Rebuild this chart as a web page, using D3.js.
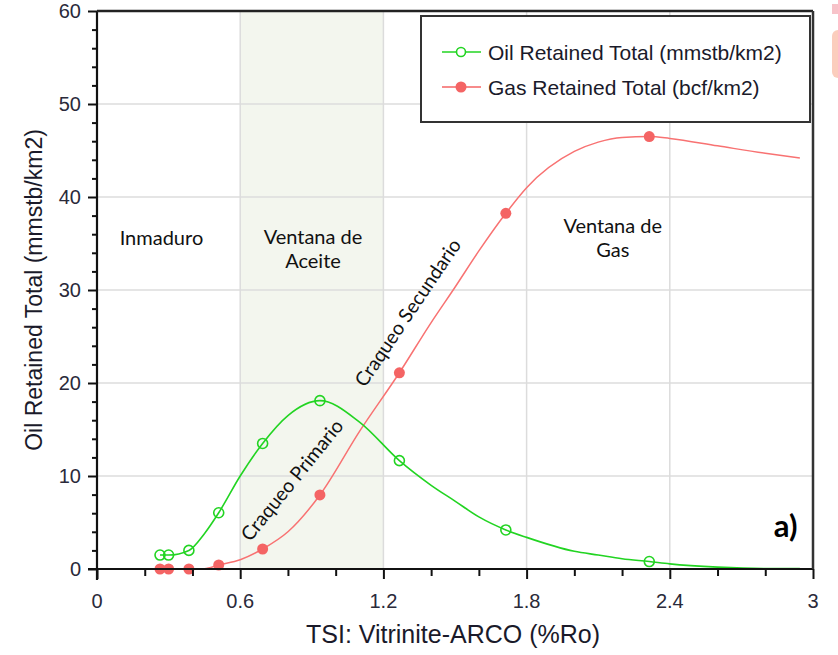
<!DOCTYPE html>
<html>
<head>
<meta charset="utf-8">
<script src="https://cdn.jsdelivr.net/npm/d3@7"></script>
<style>
  body { margin: 0; background: #fff; }
  svg { display: block; }
</style>
</head>
<body>
<div id="chart"></div>
<script>
// curve samples
const ro  = [0.264, 0.30, 0.385, 0.45, 0.51, 0.6, 0.694, 0.8, 0.934, 1.1, 1.267, 1.4, 1.5, 1.6, 1.713, 1.8, 2.0, 2.1, 2.2, 2.314, 2.4, 2.6, 2.8, 2.945];
const oil = [1.5, 1.5, 2.0, 3.8, 6.05, 10.0, 13.5, 16.5, 18.1, 15.8, 11.65, 9.0, 7.3, 5.6, 4.2, 3.4, 1.9, 1.5, 1.1, 0.8, 0.55, 0.2, 0.05, 0.05];
const gas = [0, 0, 0, 0.02, 0.43, 1.0, 2.15, 4.0, 7.96, 14.8, 21.1, 26.5, 30.3, 34.2, 38.25, 41.0, 44.9, 45.9, 46.4, 46.5, 46.3, 45.5, 44.7, 44.2];

// marker positions
const markRo  = [0.264, 0.30, 0.385, 0.51, 0.694, 0.934, 1.267, 1.713, 2.314];
const markOil = [1.5, 1.5, 2.0, 6.05, 13.5, 18.1, 11.65, 4.2, 0.8];
const markGas = [0, 0, 0, 0.43, 2.15, 7.96, 21.1, 38.25, 46.5];

const xTicks = [0, 0.6, 1.2, 1.8, 2.4, 3];
const yTicks = [0, 10, 20, 30, 40, 50, 60];
const oilWindow = [0.6, 1.2];

const seriesNames = ["Oil Retained Total (mmstb/km2)", "Gas Retained Total (bcf/km2)"];
const zoneLabels = [
  { x: 0.27, y: 34.8, lines: ["Inmaduro"] },
  { x: 0.905, y: 34.9, lines: ["Ventana de", "Aceite"] },
  { x: 2.161, y: 36.1, lines: ["Ventana de", "Gas"] }
];

const oilColor = "#22d422";
const gasColor = "#f46464";

const W = 838, H = 655;
const margin = { top: 11, right: 25, bottom: 86, left: 97 };
const width = W - margin.left - margin.right;
const height = H - margin.top - margin.bottom;

const svg = d3.select("#chart").append("svg")
  .attr("width", W)
  .attr("height", H);

// stray bit of the page edge in the screenshot
svg.append("rect").attr("x", 832).attr("y", 4).attr("width", 12).attr("height", 10).attr("fill", "#f7c3c9");
svg.append("rect").attr("x", 832).attr("y", 30).attr("width", 16).attr("height", 48).attr("rx", 6).attr("fill", "#fbcdbd");

const g = svg.append("g")
  .attr("transform", `translate(${margin.left},${margin.top})`);

const x = d3.scaleLinear().domain([0, 3]).range([0, width]);
const y = d3.scaleLinear().domain([0, 60]).range([height, 0]);

// oil window band
g.append("rect")
  .attr("x", x(oilWindow[0]))
  .attr("y", 0)
  .attr("width", x(oilWindow[1]) - x(oilWindow[0]))
  .attr("height", height)
  .attr("fill", "#f3f6ee");

// grid
g.append("g")
  .selectAll("line")
  .data(yTicks.filter(d => d > 0 && d < 60))
  .join("line")
  .attr("x1", 0).attr("x2", width)
  .attr("y1", d => y(d)).attr("y2", d => y(d))
  .attr("stroke", "#dcdcdc").attr("stroke-width", 1.5);

g.append("g")
  .selectAll("line")
  .data(xTicks.filter(d => d > 0 && d < 3))
  .join("line")
  .attr("y1", 0).attr("y2", height)
  .attr("x1", d => x(d)).attr("x2", d => x(d))
  .attr("stroke", "#dcdcdc").attr("stroke-width", 1.5);

// zone labels
zoneLabels.forEach(z => {
  const t = g.append("text")
    .attr("x", x(z.x))
    .attr("y", y(z.y))
    .attr("text-anchor", "middle")
    .style("font-family", "Lato, 'Open Sans', sans-serif")
    .style("font-size", "20px")
    .style("fill", "#111");
  z.lines.forEach((l, i) => {
    t.append("tspan").attr("x", x(z.x)).attr("dy", i === 0 ? 0 : 24).text(l);
  });
});

// rotated annotations
g.append("text")
  .attr("transform", `translate(${x(0.815)},${y(9.6)}) rotate(-51)`)
  .attr("text-anchor", "middle")
  .attr("dominant-baseline", "central")
  .style("font-family", "Lato, 'Open Sans', sans-serif")
  .style("font-size", "19.5px")
  .style("fill", "#111")
  .text("Craqueo Primario");

g.append("text")
  .attr("transform", `translate(${x(1.30)},${y(27.6)}) rotate(-56)`)
  .attr("text-anchor", "middle")
  .attr("dominant-baseline", "central")
  .style("font-family", "Lato, 'Open Sans', sans-serif")
  .style("font-size", "19.5px")
  .style("fill", "#111")
  .text("Craqueo Secundario");

g.append("text")
  .attr("x", x(2.935))
  .attr("y", y(3.4))
  .attr("text-anchor", "end")
  .style("font-family", "Lato, 'Open Sans', sans-serif")
  .style("font-size", "31px")
  .style("font-weight", "bold")
  .style("fill", "#000")
  .text("a)");

// lines
const oilData = ro.map((r, i) => ({ r, v: oil[i] }));
const gasData = ro.map((r, i) => ({ r, v: gas[i] }));
const line = d3.line()
  .x(d => x(d.r))
  .y(d => y(d.v))
  .curve(d3.curveMonotoneX);

g.append("path")
  .datum(gasData)
  .attr("fill", "none")
  .attr("stroke", "#f87272")
  .attr("stroke-width", 1.5)
  .attr("d", line);

g.append("path")
  .datum(oilData)
  .attr("fill", "none")
  .attr("stroke", oilColor)
  .attr("stroke-width", 1.6)
  .attr("d", line);

// markers
g.selectAll(".dot-gas")
  .data(markRo.map((r, i) => ({ r, v: markGas[i] })))
  .join("circle")
  .attr("class", "dot-gas")
  .attr("cx", d => x(d.r))
  .attr("cy", d => y(d.v))
  .attr("r", 5.5)
  .style("fill", gasColor);

g.selectAll(".dot-oil")
  .data(markRo.map((r, i) => ({ r, v: markOil[i] })))
  .join("circle")
  .attr("class", "dot-oil")
  .attr("cx", d => x(d.r))
  .attr("cy", d => y(d.v))
  .attr("r", 5)
  .style("fill", "none")
  .style("stroke", oilColor)
  .style("stroke-width", 1.6);

// axes
const xAxis = g.append("g")
  .attr("transform", `translate(0,${height})`)
  .call(d3.axisBottom(x).tickValues(d3.range(0, 3.01, 0.2)).tickSize(7).tickFormat(""));
xAxis.select(".domain").remove();
xAxis.selectAll("line").attr("stroke", "#111").attr("stroke-width", 2);
xAxis.selectAll(".tick")
  .filter(d => xTicks.some(t => Math.abs(t - d) < 1e-6))
  .select("line").attr("y2", 10);

g.append("g")
  .selectAll("text")
  .data(xTicks)
  .join("text")
  .attr("x", d => x(d))
  .attr("y", height + 39)
  .attr("text-anchor", "middle")
  .style("font-family", "'Liberation Sans', Arial, sans-serif")
  .style("font-size", "20px")
  .style("fill", "#2a2a3a")
  .text(d => d);

const yAxis = g.append("g")
  .call(d3.axisLeft(y).tickValues(d3.range(0, 60.01, 2)).tickSize(5).tickFormat(""));
yAxis.select(".domain").remove();
yAxis.selectAll("line").attr("stroke", "#111").attr("stroke-width", 2);
yAxis.selectAll(".tick")
  .filter(d => d % 10 === 0)
  .select("line").attr("x2", -9);

g.append("g")
  .selectAll("text")
  .data(yTicks)
  .join("text")
  .attr("x", -16)
  .attr("y", d => y(d))
  .attr("dy", "0.36em")
  .attr("text-anchor", "end")
  .style("font-family", "'Liberation Sans', Arial, sans-serif")
  .style("font-size", "20px")
  .style("fill", "#2a2a3a")
  .text(d => d);

// frame
g.append("line").attr("x1", 0).attr("x2", 0).attr("y1", 0).attr("y2", height + 11)
  .attr("stroke", "#111").attr("stroke-width", 2.2);
g.append("line").attr("x1", -9).attr("x2", width).attr("y1", height).attr("y2", height)
  .attr("stroke", "#111").attr("stroke-width", 2.2);
g.append("line").attr("x1", 0).attr("x2", width).attr("y1", 0).attr("y2", 0)
  .attr("stroke", "#222").attr("stroke-width", 2.5);
g.append("line").attr("x1", width).attr("x2", width).attr("y1", 0).attr("y2", height)
  .attr("stroke", "#333").attr("stroke-width", 2.5);

// axis titles
svg.append("text")
  .attr("x", 453)
  .attr("y", 643)
  .attr("text-anchor", "middle")
  .style("font-family", "'Liberation Sans', Arial, sans-serif")
  .style("font-size", "25px")
  .style("fill", "#1a1a2a")
  .text("TSI: Vitrinite-ARCO (%Ro)");

svg.append("text")
  .attr("transform", "translate(42,290) rotate(-90)")
  .attr("text-anchor", "middle")
  .style("font-family", "'Liberation Sans', Arial, sans-serif")
  .style("font-size", "23px")
  .style("fill", "#1a1a2a")
  .text("Oil Retained Total (mmstb/km2)");

// legend
const legend = svg.append("g");
legend.append("rect")
  .attr("x", 421).attr("y", 16)
  .attr("width", 389).attr("height", 106)
  .attr("fill", "#fff")
  .attr("stroke", "#333")
  .attr("stroke-width", 2);

seriesNames.forEach((name, i) => {
  const ly = 52 + i * 35;
  const c = i === 0 ? oilColor : gasColor;
  legend.append("line")
    .attr("x1", 442).attr("x2", 481)
    .attr("y1", ly).attr("y2", ly)
    .attr("stroke", c).attr("stroke-width", 1.6);
  legend.append("circle")
    .attr("cx", 461).attr("cy", ly)
    .attr("r", i === 0 ? 4.5 : 5.5)
    .style("fill", i === 0 ? "#fff" : c)
    .style("stroke", i === 0 ? c : "none")
    .style("stroke-width", 1.6);
  legend.append("text")
    .attr("x", 488)
    .attr("y", ly)
    .attr("dy", "0.36em")
    .style("font-family", "'Liberation Sans', Arial, sans-serif")
    .style("font-size", "21px")
    .style("fill", "#1a1a2a")
    .text(name);
});
</script>
</body>
</html>
